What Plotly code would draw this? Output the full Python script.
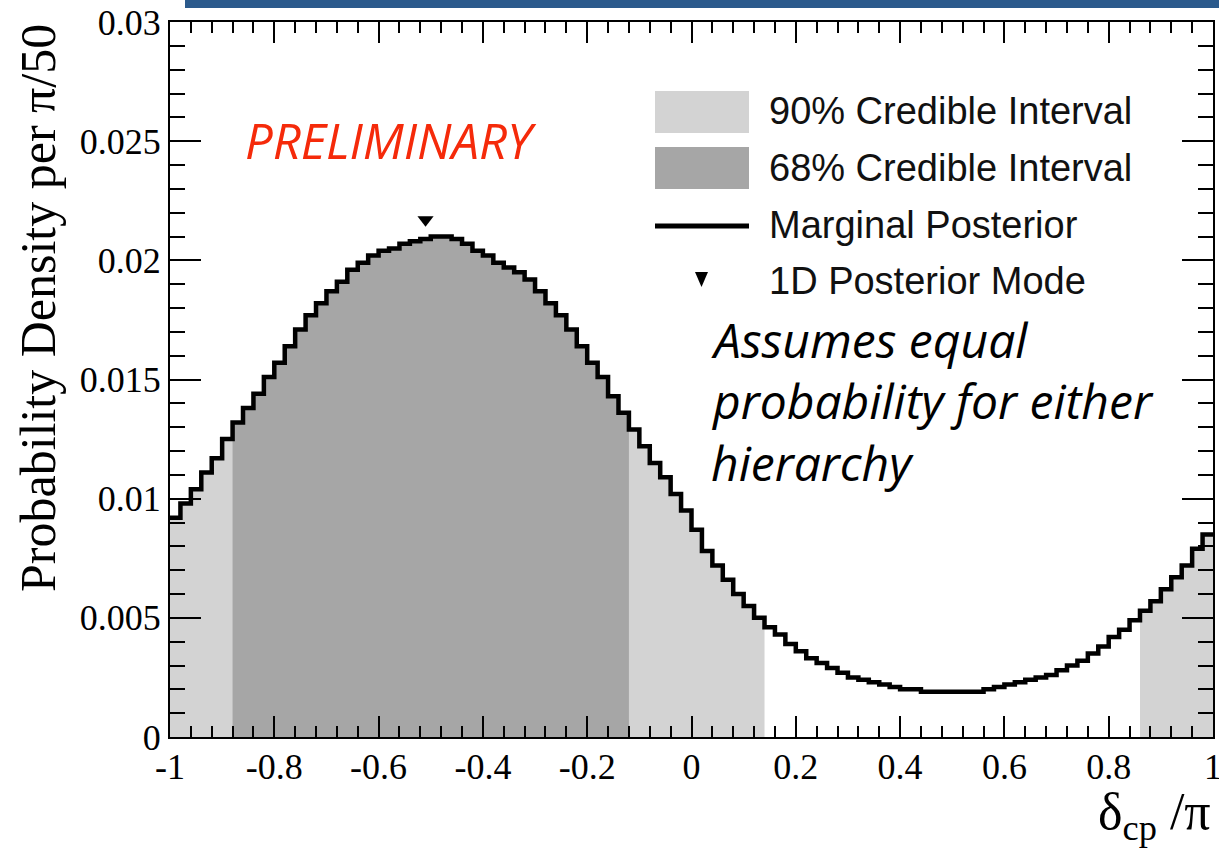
import plotly.graph_objects as go

# ---------------- data ----------------
bin_edges = [round(-1 + 0.02 * i, 2) for i in range(101)]  # delta_cp/pi bins of width pi/50

density = [
    0.0092, 0.0098, 0.0104, 0.0111, 0.0117, 0.0125, 0.0132, 0.0138, 0.0144, 0.0151,
    0.0157, 0.0164, 0.0171, 0.0177, 0.0182, 0.0187, 0.0191, 0.0196, 0.0199, 0.0202,
    0.0204, 0.0205, 0.0207, 0.0208, 0.0209, 0.0210, 0.0210, 0.0209, 0.0207, 0.0204,
    0.0202, 0.0199, 0.0197, 0.0195, 0.0192, 0.0187, 0.0182, 0.0177, 0.0171, 0.0164,
    0.0157, 0.0151, 0.0143, 0.0136, 0.0129, 0.0122, 0.0115, 0.0109, 0.0102, 0.0095,
    0.0087, 0.0078, 0.0072, 0.0066, 0.0060, 0.0055, 0.0050, 0.0046, 0.0043, 0.0039,
    0.0036, 0.0033, 0.0031, 0.0029, 0.0027, 0.0025, 0.0024, 0.0023, 0.0022, 0.0021,
    0.0020, 0.0020, 0.0019, 0.0019, 0.0019, 0.0019, 0.0019, 0.0019, 0.0020, 0.0021,
    0.0022, 0.0023, 0.0024, 0.0025, 0.0026, 0.0028, 0.0030, 0.0032, 0.0035, 0.0038,
    0.0042, 0.0045, 0.0049, 0.0053, 0.0057, 0.0062, 0.0067, 0.0072, 0.0079, 0.0085,
]

ci90_intervals = [(-1.0, 0.14), (0.86, 1.0)]
ci68_intervals = [(-0.88, -0.12)]

mode_x = [-0.51]
mode_y = [0.0217]

x_tick_vals = [-1, -0.8, -0.6, -0.4, -0.2, 0, 0.2, 0.4, 0.6, 0.8, 1]
x_tick_text = ["-1", "-0.8", "-0.6", "-0.4", "-0.2", "0", "0.2", "0.4", "0.6", "0.8", "1"]
y_tick_vals = [0, 0.005, 0.01, 0.015, 0.02, 0.025, 0.03]
y_tick_text = ["0", "0.005", "0.01", "0.015", "0.02", "0.025", "0.03"]

legend_labels = ["90% Credible Interval", "68% Credible Interval",
                 "Marginal Posterior", "1D Posterior Mode"]

# ---------------- styling ----------------
W, H = 1219, 849
ML, MR, MT, MB = 170, 6, 22, 112
PW, PH = W - ML - MR, H - MT - MB
LIGHT = "#d3d3d3"
DARK = "#a6a6a6"
SERIF = "Liberation Serif"
SANS = "Liberation Sans"
ITAL = "Open Sans"


def px(xp):
    return (xp - ML) / PW


def py(yp):
    return (H - MB - yp) / PH


def step_slice(lo, hi):
    i0 = min(i for i, e in enumerate(bin_edges) if e >= lo - 1e-9)
    i1 = max(i for i, e in enumerate(bin_edges) if e <= hi + 1e-9)
    xs = bin_edges[i0:i1 + 1]
    ys = density[i0:i1] + [density[i1 - 1]]
    return xs, ys


fig = go.Figure()

for lo, hi in ci90_intervals:
    xs, ys = step_slice(lo, hi)
    fig.add_trace(go.Scatter(x=xs, y=ys, mode="lines", line=dict(shape="hv", width=0, color=LIGHT),
                             fill="tozeroy", fillcolor=LIGHT, showlegend=False, hoverinfo="skip"))
for lo, hi in ci68_intervals:
    xs, ys = step_slice(lo, hi)
    fig.add_trace(go.Scatter(x=xs, y=ys, mode="lines", line=dict(shape="hv", width=0, color=DARK),
                             fill="tozeroy", fillcolor=DARK, showlegend=False, hoverinfo="skip"))

fig.add_trace(go.Scatter(x=bin_edges, y=density + [density[-1]], mode="lines",
                         line=dict(shape="hv", width=4.5, color="black"), showlegend=False))

fig.add_trace(go.Scatter(x=mode_x, y=mode_y, mode="markers",
                         marker=dict(symbol="triangle-down", size=14, color="black"), showlegend=False))

shapes = []
annotations = []

# legend (manual, ROOT style)
rows_y = [111, 168, 225, 281]
shapes.append(dict(type="rect", xref="paper", yref="paper", x0=px(655), x1=px(749), y0=py(133), y1=py(91),
                   fillcolor=LIGHT, line=dict(width=0)))
shapes.append(dict(type="rect", xref="paper", yref="paper", x0=px(655), x1=px(749), y0=py(189), y1=py(147),
                   fillcolor=DARK, line=dict(width=0)))
shapes.append(dict(type="line", xref="paper", yref="paper", x0=px(655), x1=px(749), y0=py(226), y1=py(226),
                   line=dict(color="black", width=5)))
shapes.append(dict(type="path", xref="paper", yref="paper",
                   path="M %f %f L %f %f L %f %f Z" % (px(695), py(272), px(708), py(272), px(701.5), py(287)),
                   fillcolor="black", line=dict(width=0)))
for lab, yy in zip(legend_labels, rows_y):
    annotations.append(dict(text=lab, xref="paper", yref="paper", x=px(767), y=py(yy), xanchor="left",
                            yanchor="middle", showarrow=False, font=dict(family=SANS, size=38, color="#111111")))

# top decorative bar
shapes.append(dict(type="rect", xref="paper", yref="paper", x0=px(185), x1=px(1222), y0=py(8), y1=py(-2),
                   fillcolor="#2b5a8c", line=dict(width=0)))

# texts
annotations.append(dict(text="<i>PRELIMINARY</i>", xref="paper", yref="paper", x=px(243), y=py(140),
                        xanchor="left", yanchor="middle", showarrow=False,
                        font=dict(family=ITAL, size=49, color="#f52a0a")))
for t, yy in zip(["Assumes equal", "probability for either", "hierarchy"], [339, 400, 462]):
    annotations.append(dict(text="<i>" + t + "</i>", xref="paper", yref="paper", x=px(709), y=py(yy),
                            xanchor="left", yanchor="middle", showarrow=False,
                            font=dict(family=ITAL, size=48, color="black")))

# axis titles
annotations.append(dict(text="Probability Density per π/50", xref="paper", yref="paper", x=px(38), y=1.0,
                        xanchor="center", yanchor="top", textangle=-90, showarrow=False,
                        font=dict(family=SERIF, size=50, color="black")))
annotations.append(dict(text="δ<sub>cp</sub> /π", xref="paper", yref="paper", x=1.0, y=py(815),
                        xanchor="right", yanchor="middle", showarrow=False,
                        font=dict(family=SERIF, size=52, color="black")))

fig.update_layout(
    width=W, height=H, margin=dict(l=ML, r=MR, t=MT, b=MB, autoexpand=False),
    paper_bgcolor="white", plot_bgcolor="white", showlegend=False,
    shapes=shapes, annotations=annotations,
    xaxis=dict(range=[-1, 1], tickmode="array", tickvals=x_tick_vals, ticktext=x_tick_text,
               ticks="inside", ticklen=21, tickwidth=2, tickcolor="black",
               minor=dict(tickmode="linear", tick0=-1, dtick=0.04, ticks="inside", ticklen=11,
                          tickwidth=2, tickcolor="black", showgrid=False),
               showline=True, linecolor="black", linewidth=2, mirror="allticks",
               showgrid=False, zeroline=False, ticklabeloverflow="allow", ticklabelstandoff=-3,
               automargin=False,
               tickfont=dict(family=SERIF, size=36, color="black")),
    yaxis=dict(range=[0, 0.03], tickmode="array", tickvals=y_tick_vals, ticktext=y_tick_text,
               ticks="inside", ticklen=31, tickwidth=2, tickcolor="black",
               minor=dict(tickmode="linear", tick0=0, dtick=0.001, ticks="inside", ticklen=15,
                          tickwidth=2, tickcolor="black", showgrid=False),
               showline=True, linecolor="black", linewidth=2, mirror="allticks",
               showgrid=False, zeroline=False, ticklabeloverflow="allow", automargin=False,
               tickfont=dict(family=SERIF, size=36, color="black")),
)

fig.write_html("out.html", config={"displayModeBar": False})
